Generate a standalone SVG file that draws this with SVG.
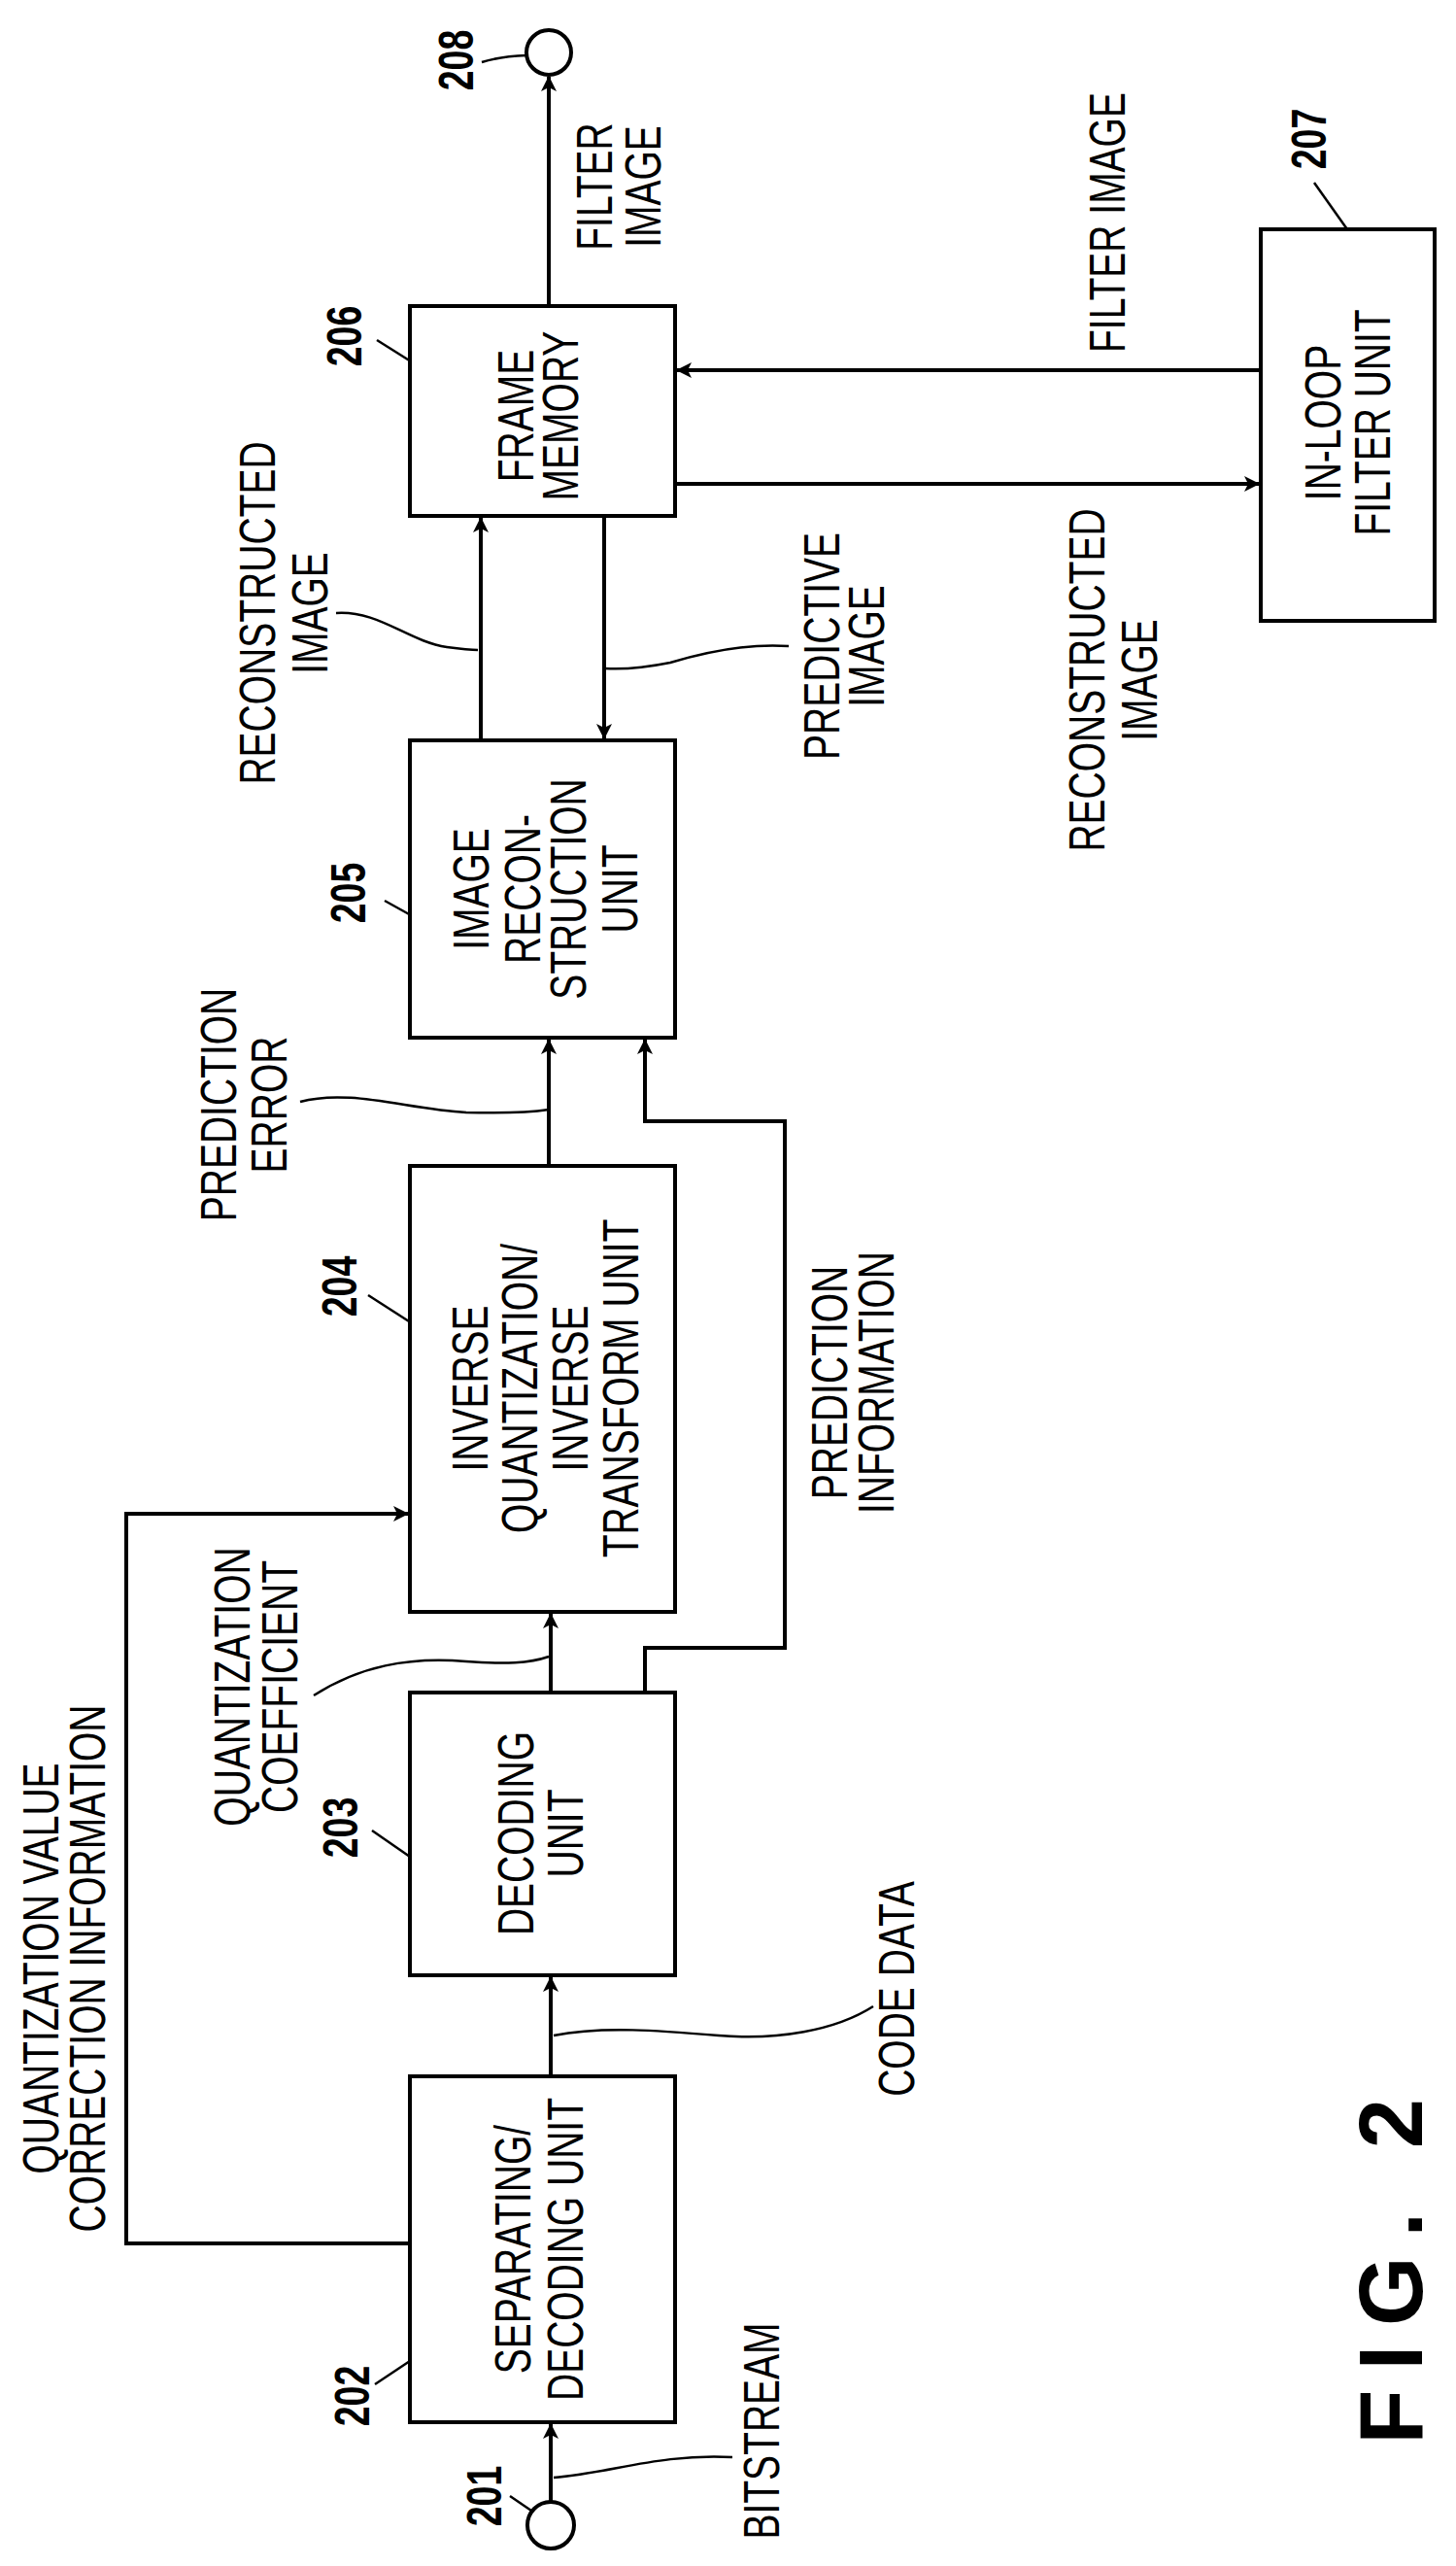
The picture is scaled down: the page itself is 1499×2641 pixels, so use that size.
<svg xmlns="http://www.w3.org/2000/svg" width="1499" height="2641" viewBox="0 0 1499 2641">
<style>
.b{fill:#fff;stroke:#000;stroke-width:4}
.c{fill:none;stroke:#000;stroke-width:4}
.l{fill:none;stroke:#000;stroke-width:2.5}
text{font-family:"Liberation Sans",Arial,sans-serif;font-size:52px;fill:#000;text-anchor:middle;dominant-baseline:central}
.n{font-weight:bold;font-size:50px}
.f{font-weight:bold;font-size:92px;letter-spacing:20px}
</style>
<defs><marker id="a" markerWidth="16" markerHeight="16" refX="15" refY="8" orient="auto" markerUnits="userSpaceOnUse"><path d="M0,0 L16,8 L0,16 L4,8 Z"/></marker></defs>
<g id="n202"><rect class="b" x="422" y="2137" width="273" height="356"/>
<text transform="translate(528,2315) rotate(-90) scale(0.75,1)">SEPARATING/</text><text transform="translate(582,2315) rotate(-90) scale(0.75,1)">DECODING UNIT</text>
<text class="n" transform="translate(362,2466) rotate(-90) scale(0.75,1)">202</text><path class="l" d="M386,2454 L422,2430"/></g>
<g id="n203"><rect class="b" x="422" y="1742" width="273" height="291"/>
<text transform="translate(531,1887) rotate(-90) scale(0.75,1)">DECODING</text><text transform="translate(582,1887) rotate(-90) scale(0.75,1)">UNIT</text>
<text class="n" transform="translate(350,1881) rotate(-90) scale(0.75,1)">203</text><path class="l" d="M383,1884 L422,1911"/></g>
<g id="n204"><rect class="b" x="422" y="1200" width="273" height="459"/>
<text transform="translate(484,1429) rotate(-90) scale(0.75,1)">INVERSE</text><text transform="translate(535,1429) rotate(-90) scale(0.75,1)">QUANTIZATION/</text><text transform="translate(587,1429) rotate(-90) scale(0.75,1)">INVERSE</text><text transform="translate(639,1429) rotate(-90) scale(0.75,1)">TRANSFORM UNIT</text>
<text class="n" transform="translate(349,1324) rotate(-90) scale(0.75,1)">204</text><path class="l" d="M379,1333 L421,1360"/></g>
<g id="n205"><rect class="b" x="422" y="762" width="273" height="306"/>
<text transform="translate(485,915) rotate(-90) scale(0.75,1)">IMAGE</text><text transform="translate(538,915) rotate(-90) scale(0.75,1)">RECON-</text><text transform="translate(585,915) rotate(-90) scale(0.75,1)">STRUCTION</text><text transform="translate(638,915) rotate(-90) scale(0.75,1)">UNIT</text>
<text class="n" transform="translate(358,919) rotate(-90) scale(0.75,1)">205</text><path class="l" d="M396,927 L423,942"/></g>
<g id="n206"><rect class="b" x="422" y="315" width="273" height="216"/>
<text transform="translate(531,428) rotate(-90) scale(0.75,1)">FRAME</text><text transform="translate(577,428) rotate(-90) scale(0.75,1)">MEMORY</text>
<text class="n" transform="translate(354,346) rotate(-90) scale(0.75,1)">206</text><path class="l" d="M388,350 L423,372"/></g>
<g id="n207"><rect class="b" x="1298" y="236" width="179" height="403"/>
<text transform="translate(1362,435) rotate(-90) scale(0.75,1)">IN-LOOP</text><text transform="translate(1413,435) rotate(-90) scale(0.75,1)">FILTER UNIT</text>
<text class="n" transform="translate(1347,143) rotate(-90) scale(0.75,1)">207</text><path class="l" d="M1353,188 L1387,236"/></g>
<g id="n201"><circle class="c" cx="567" cy="2599" r="24"/><text class="n" transform="translate(498,2569) rotate(-90) scale(0.75,1)">201</text><path class="l" d="M525,2569 L547,2584"/></g>
<g id="n208"><circle class="c" cx="565" cy="54" r="23"/><text class="n" transform="translate(469,62) rotate(-90) scale(0.75,1)">208</text><path class="l" d="M496,64 Q515,58 542,57"/></g>
<g id="connectors">
<path class="c" marker-end="url(#a)" d="M567,2575 L567,2495"/>
<path class="c" marker-end="url(#a)" d="M567,2137 L567,2035"/>
<path class="c" marker-end="url(#a)" d="M567,1742 L567,1661"/>
<path class="c" marker-end="url(#a)" d="M565,1200 L565,1070"/>
<path class="c" marker-end="url(#a)" d="M664,1742 L664,1696 L808,1696 L808,1154 L664,1154 L664,1070"/>
<path class="c" marker-end="url(#a)" d="M422,2309 L130,2309 L130,1558 L420,1558"/>
<path class="c" marker-end="url(#a)" d="M495,762 L495,533"/>
<path class="c" marker-end="url(#a)" d="M622,531 L622,760"/>
<path class="c" marker-end="url(#a)" d="M695,498 L1296,498"/>
<path class="c" marker-end="url(#a)" d="M1298,381 L697,381"/>
<path class="c" marker-end="url(#a)" d="M565,315 L565,79"/>
<path class="l" d="M570,2095 C620,2085 680,2090 740,2095 C800,2100 860,2090 899,2065"/>
<path class="l" d="M570,2550 C630,2545 680,2525 754,2529"/>
<path class="l" d="M323,1745 C370,1715 420,1705 480,1710 C520,1713 545,1712 565,1705"/>
<path class="l" d="M309,1134 C360,1120 420,1142 480,1145 C520,1146 545,1145 565,1142"/>
<path class="l" d="M346,631 C390,628 420,660 460,666 C475,668 485,669 492,669"/>
<path class="l" d="M812,665 C770,662 730,670 690,682 C660,688 640,689 623,688"/>
</g>
<g id="labels">
<text transform="translate(612,192) rotate(-90) scale(0.75,1)">FILTER</text><text transform="translate(662,192) rotate(-90) scale(0.75,1)">IMAGE</text>
<text transform="translate(265,631) rotate(-90) scale(0.75,1)">RECONSTRUCTED</text><text transform="translate(319,631) rotate(-90) scale(0.75,1)">IMAGE</text>
<text transform="translate(846,665) rotate(-90) scale(0.75,1)">PREDICTIVE</text><text transform="translate(892,665) rotate(-90) scale(0.75,1)">IMAGE</text>
<text transform="translate(1140,229) rotate(-90) scale(0.75,1)">FILTER IMAGE</text>
<text transform="translate(1119,700) rotate(-90) scale(0.75,1)">RECONSTRUCTED</text><text transform="translate(1173,700) rotate(-90) scale(0.75,1)">IMAGE</text>
<text transform="translate(225,1137) rotate(-90) scale(0.75,1)">PREDICTION</text><text transform="translate(277,1137) rotate(-90) scale(0.75,1)">ERROR</text>
<text transform="translate(854,1423) rotate(-90) scale(0.75,1)">PREDICTION</text><text transform="translate(902,1423) rotate(-90) scale(0.75,1)">INFORMATION</text>
<text transform="translate(42,2026) rotate(-90) scale(0.75,1)">QUANTIZATION VALUE</text><text transform="translate(90,2026) rotate(-90) scale(0.75,1)">CORRECTION INFORMATION</text>
<text transform="translate(239,1736) rotate(-90) scale(0.75,1)">QUANTIZATION</text><text transform="translate(288,1736) rotate(-90) scale(0.75,1)">COEFFICIENT</text>
<text transform="translate(923,2047) rotate(-90) scale(0.75,1)">CODE DATA</text>
<text transform="translate(784,2502) rotate(-90) scale(0.75,1)">BITSTREAM</text>
<text class="f" transform="translate(1432,2328) rotate(-90)">FIG. 2</text>
</g>
</svg>
